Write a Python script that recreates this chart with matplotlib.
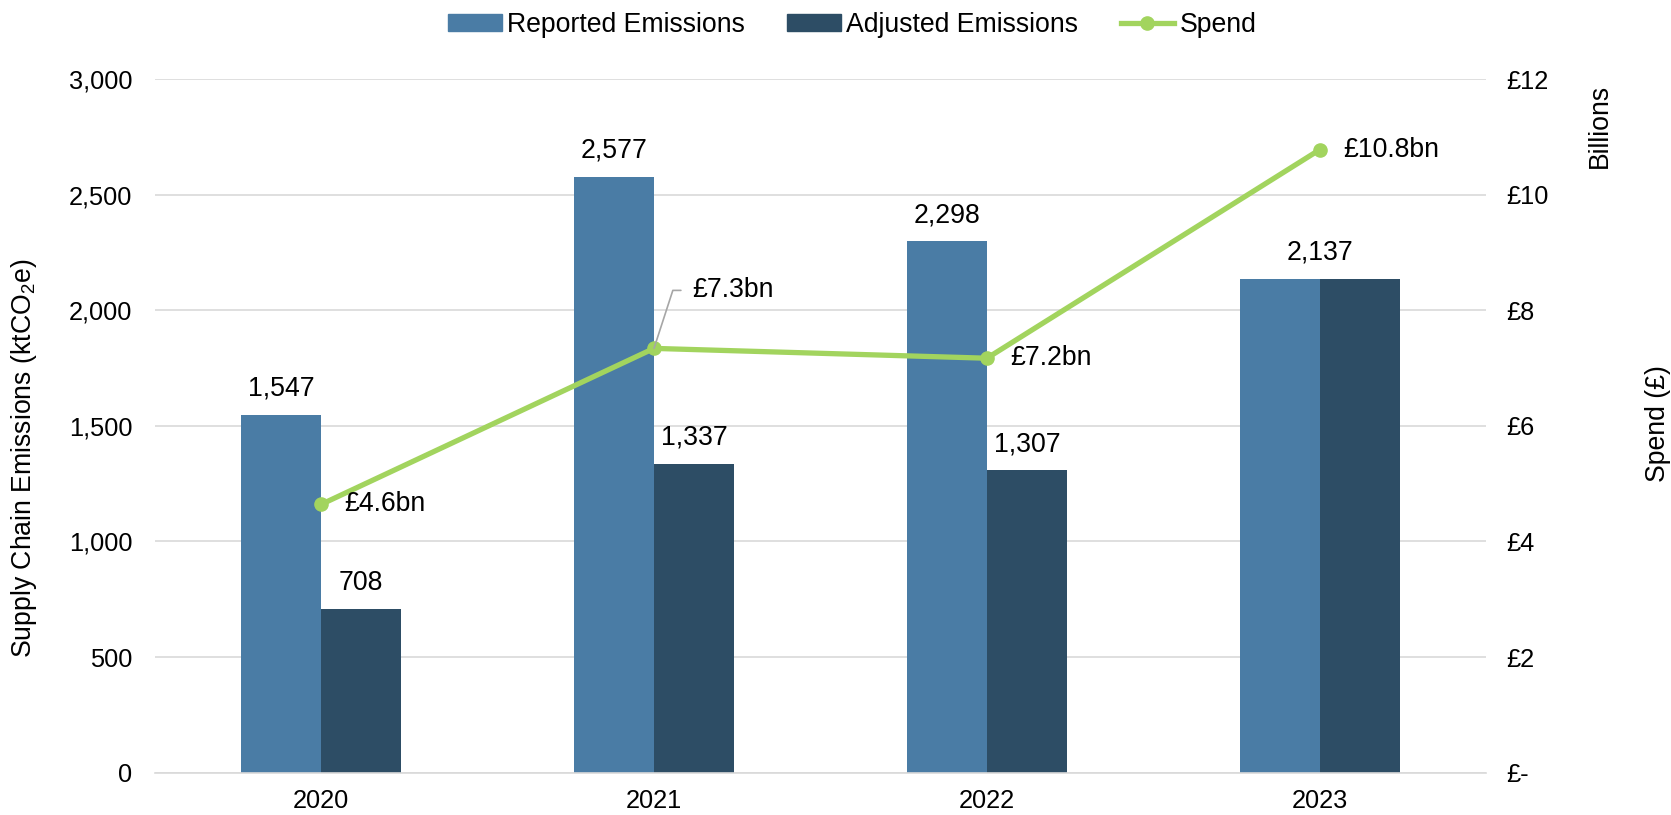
import matplotlib
matplotlib.use("Agg")
import matplotlib.pyplot as plt
from matplotlib.patches import Patch
from matplotlib.lines import Line2D
from matplotlib.ticker import FuncFormatter, MultipleLocator
import numpy as np

plt.rcParams['font.family'] = ['Liberation Sans', 'DejaVu Sans']
plt.rcParams['mathtext.fontset'] = 'custom'
plt.rcParams['mathtext.rm'] = 'Liberation Sans'
plt.rcParams['mathtext.default'] = 'regular'

years = ["2020", "2021", "2022", "2023"]
reported = [1547, 2577, 2298, 2137]
adjusted = [708, 1337, 1307, 2137]
spend_bn = [4.64, 7.34, 7.17, 10.78]

c_rep = '#4a7ca5'
c_adj = '#2d4d65'
c_spend = '#a2d45e'
grid_c = '#d9d9d9'
FS = 18.3
FL = 19.2

fig = plt.figure(figsize=(16.71, 8.15), dpi=100)
ax = fig.add_axes([0.0925, 0.052, 0.797, 0.851])
ax2 = ax.twinx()

x = np.arange(len(years))
w = 0.24
ax.bar(x - w / 2, reported, w, color=c_rep, zorder=2)
ax.bar(x + w / 2, adjusted, w, color=c_adj, zorder=2)

ax.set_xlim(-0.5, 3.5)
ax.set_ylim(0, 3000)
ax.yaxis.set_major_locator(MultipleLocator(500))
ax.yaxis.set_major_formatter(FuncFormatter(lambda v, p: f'{int(v):,}'))
ax.grid(axis='y', color=grid_c, lw=1.2, zorder=0)
ax.set_axisbelow(True)
ax.set_xticks(x)
ax.set_xticklabels(years)
ax.tick_params(axis='y', length=0, labelsize=FS, pad=16)
ax.tick_params(axis='x', length=0, labelsize=FS, pad=12)
for s in ['top', 'right', 'left']:
    ax.spines[s].set_visible(False)
    ax2.spines[s].set_visible(False)
ax.spines['bottom'].set_color(grid_c)
ax.spines['bottom'].set_linewidth(1.2)
ax2.spines['bottom'].set_visible(False)

# bar labels
for i in range(len(years)):
    if reported[i] == adjusted[i]:
        ax.annotate(f'{reported[i]:,}', (x[i], reported[i]), xytext=(0, 19),
                    textcoords='offset pixels', ha='center', va='baseline', fontsize=FL)
    else:
        ax.annotate(f'{reported[i]:,}', (x[i] - w / 2, reported[i]), xytext=(0, 19),
                    textcoords='offset pixels', ha='center', va='baseline', fontsize=FL)
        ax.annotate(f'{adjusted[i]:,}', (x[i] + w / 2, adjusted[i]), xytext=(0, 19),
                    textcoords='offset pixels', ha='center', va='baseline', fontsize=FL)

# spend line
ax2.plot(x, spend_bn, color=c_spend, lw=3.8, marker='o', ms=9.5, zorder=3)
ax2.set_ylim(0, 12)
ax2.yaxis.set_major_locator(MultipleLocator(2))
ax2.yaxis.set_major_formatter(FuncFormatter(lambda v, p: '£-' if v == 0 else f'£{v:.0f}'))
ax2.tick_params(axis='y', length=0, labelsize=FS, pad=14)
for lab in ax2.get_yticklabels():
    lab.set_horizontalalignment('left')

for i, v in enumerate(spend_bn):
    lbl = f'£{v:.1f}bn'
    if i == 1:
        ax2.annotate(lbl, (x[i], v), xytext=(38, 58), textcoords='offset pixels',
                     ha='left', va='center', fontsize=FL,
                     arrowprops=dict(arrowstyle='-', color='#a6a6a6', lw=1.2,
                                     connectionstyle='angle,angleA=0,angleB=72,rad=0',
                                     relpos=(0, 0.5), shrinkA=6, shrinkB=0))
    else:
        ax2.annotate(lbl, (x[i], v), xytext=(23, 0), textcoords='offset pixels',
                     ha='left', va='center', fontsize=FL)

# axis titles
fig.text(0.0145, 0.438, 'Supply Chain Emissions (ktCO$_2$e)', rotation=90,
         ha='center', va='center', fontsize=FL)
fig.text(0.9575, 0.845, 'Billions', rotation=90, ha='center', va='center', fontsize=FL)
fig.text(0.9925, 0.48, 'Spend (£)', rotation=90, ha='center', va='center', fontsize=FL)

handles = [Patch(color=c_rep, label='Reported Emissions'),
           Patch(color=c_adj, label='Adjusted Emissions'),
           Line2D([0], [0], color=c_spend, lw=3.8, marker='o', ms=9.5, label='Spend')]
fig.legend(handles=handles, loc='center', bbox_to_anchor=(0.51, 0.969), ncol=3,
           frameon=False, fontsize=FL, handlelength=2.0, handleheight=0.6,
           handletextpad=0.2, columnspacing=1.6)

fig.savefig('out.png', dpi=100)
